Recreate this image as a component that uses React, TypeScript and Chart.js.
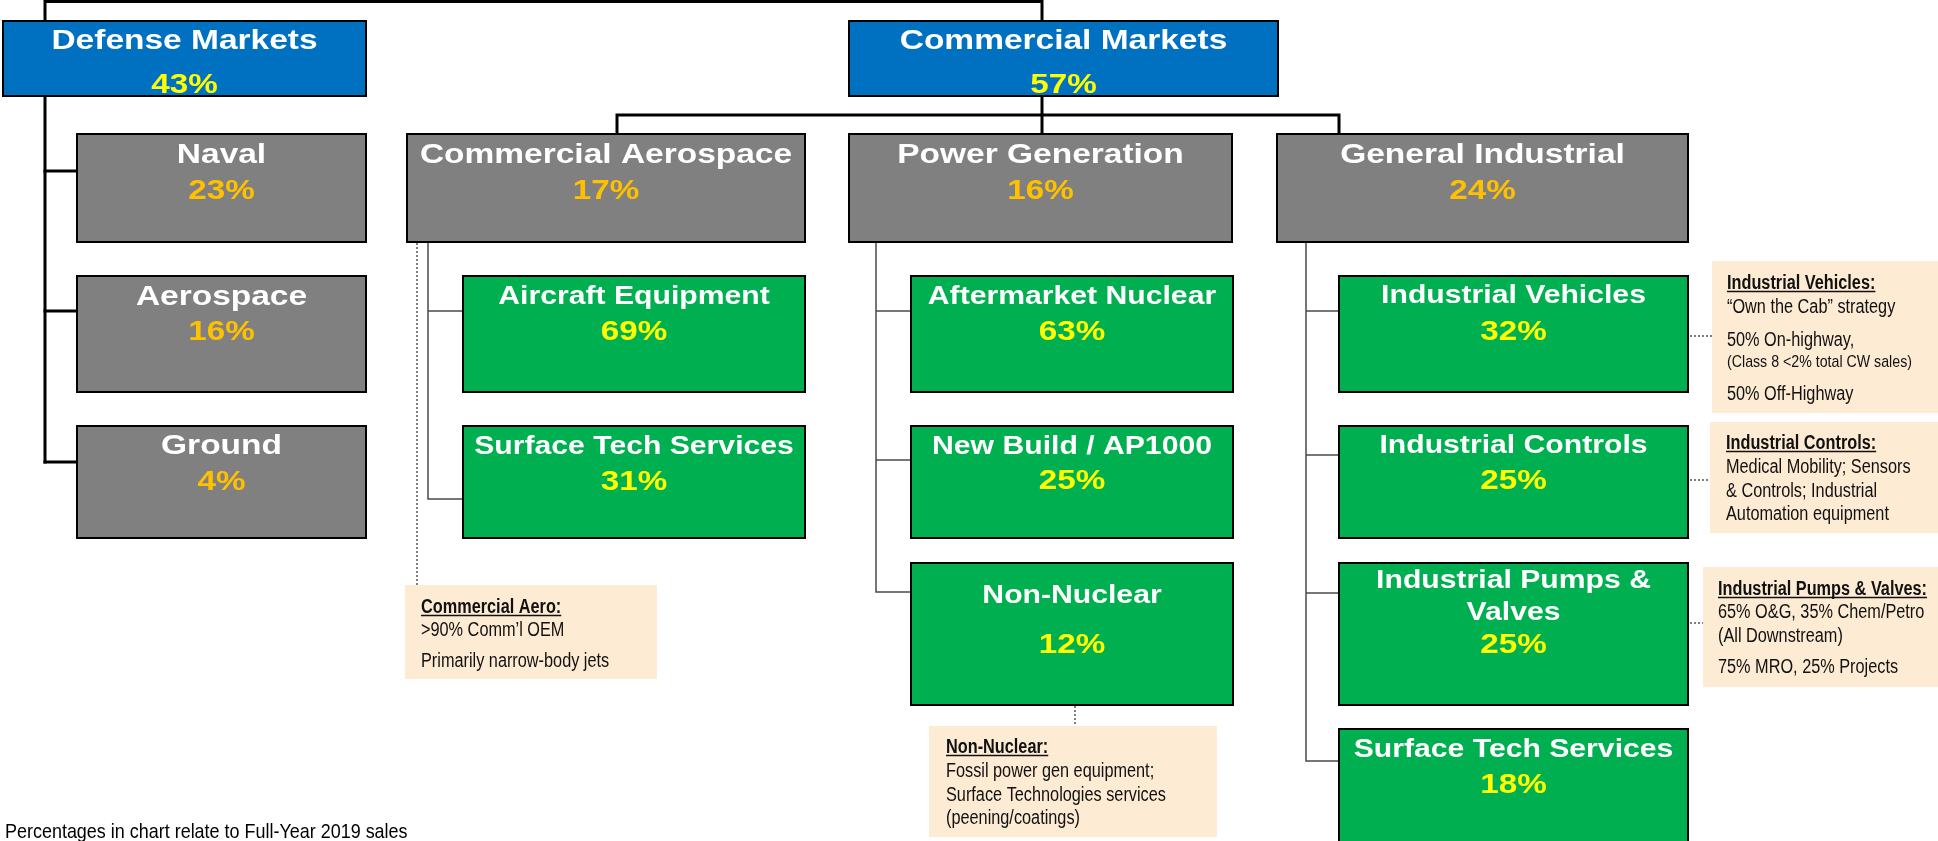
import React, { useEffect, useRef } from "react";
import { Chart, registerables } from "chart.js";

Chart.register(...registerables);

// ---------------- DATA ----------------
const boxTitles: string[][] = [
  ["Defense Markets"],
  ["Commercial Markets"],
  ["Naval"],
  ["Aerospace"],
  ["Ground"],
  ["Commercial Aerospace"],
  ["Power Generation"],
  ["General Industrial"],
  ["Aircraft Equipment"],
  ["Surface Tech Services"],
  ["Aftermarket Nuclear"],
  ["New Build / AP1000"],
  ["Non-Nuclear"],
  ["Industrial Vehicles"],
  ["Industrial Controls"],
  ["Industrial Pumps &", "Valves"],
  ["Surface Tech Services"],
];
const boxShares = [43, 57, 23, 16, 4, 17, 16, 24, 69, 31, 63, 25, 12, 32, 25, 25, 18];
const boxTiers = [0, 0, 1, 1, 1, 1, 1, 1, 2, 2, 2, 2, 2, 2, 2, 2, 2];

const noteTitles = [
  "Commercial Aero:",
  "Non-Nuclear:",
  "Industrial Vehicles:",
  "Industrial Controls:",
  "Industrial Pumps & Valves:",
];
const noteLines: string[][] = [
  [">90% Comm\u2019l OEM", "Primarily narrow-body jets"],
  ["Fossil power gen equipment;", "Surface Technologies services", "(peening/coatings)"],
  ["\u201COwn the Cab\u201D strategy", "50% On-highway,", "(Class 8 <2% total CW sales)", "50% Off-Highway"],
  ["Medical Mobility; Sensors", "& Controls; Industrial", "Automation equipment"],
  ["65% O&G, 35% Chem/Petro", "(All Downstream)", "75% MRO, 25% Projects"],
];
const footnote = "Percentages in chart relate to Full-Year 2019 sales";

// ---------------- LAYOUT (data-space units of the hidden linear scales) ----------------
const boxRects: number[][] = [
  [3, 21, 366, 96],
  [849, 21, 1278, 96],
  [77, 134, 366, 242],
  [77, 276, 366, 392],
  [77, 426, 366, 538],
  [407, 134, 805, 242],
  [849, 134, 1232, 242],
  [1277, 134, 1688, 242],
  [463, 276, 805, 392],
  [463, 426, 805, 538],
  [911, 276, 1233, 392],
  [911, 426, 1233, 538],
  [911, 563, 1233, 705],
  [1339, 276, 1688, 392],
  [1339, 426, 1688, 538],
  [1339, 563, 1688, 705],
  [1339, 729, 1688, 870],
];
const titleBaselines: number[][] = [
  [49], [49], [163], [305], [454], [163], [163], [163],
  [304], [454], [304], [454], [603], [303], [453], [588, 620], [757],
];
const shareBaselines = [93, 93, 199, 340, 490, 199, 199, 199, 340, 490, 340, 489, 653, 340, 489, 653, 793];

const thickLines: number[][] = [
  [45, 21, 45, 1.5, 1042, 1.5, 1042, 21],
  [45, 96, 45, 462],
  [45, 171, 77, 171],
  [45, 311, 77, 311],
  [45, 462, 77, 462],
  [1042, 96, 1042, 134],
  [617, 134, 617, 115, 1339, 115, 1339, 134],
];
const thinLines: number[][] = [
  [428, 242, 428, 499, 463, 499],
  [428, 311, 463, 311],
  [876, 242, 876, 592, 911, 592],
  [876, 311, 911, 311],
  [876, 460, 911, 460],
  [1306, 242, 1306, 761, 1339, 761],
  [1306, 311, 1339, 311],
  [1306, 455, 1339, 455],
  [1306, 593, 1339, 593],
];
const dottedLines: number[][] = [
  [417, 243, 417, 585],
  [1075, 706, 1075, 726],
  [1690, 336, 1712, 336],
  [1690, 480, 1710, 480],
  [1690, 623, 1703, 623],
];
const noteRects: number[][] = [
  [405, 585, 657, 679],
  [929, 726, 1217, 837],
  [1712, 261, 1940, 413],
  [1710, 422, 1940, 533],
  [1703, 567, 1940, 687],
];
const noteTextX = [421, 946, 1727, 1726, 1718];
const noteBaselines: number[][] = [
  [613, 636, 667],
  [753, 777, 801, 824],
  [289, 313, 346, 367, 400],
  [449, 473, 497, 520],
  [595, 618, 642, 673],
];
const footX = 5;
const footBaseline = 838;

// ---------------- STYLES ----------------
const FONT = "'Liberation Sans', Arial, Helvetica, sans-serif";
const tierFill = ["#0070C0", "#808080", "#00B050"];
const tierShareColor = ["#FFFF00", "#FFC000", "#FFFF00"];

function drawText(
  ctx: CanvasRenderingContext2D,
  text: string,
  x: number,
  y: number,
  font: string,
  color: string,
  sx: number,
  align: CanvasTextAlign,
  maxW?: number
) {
  ctx.save();
  ctx.font = font;
  ctx.fillStyle = color;
  ctx.textAlign = align;
  ctx.textBaseline = "alphabetic";
  ctx.translate(x, y);
  ctx.scale(sx, 1);
  if (maxW) ctx.fillText(text, 0, 0, maxW / sx);
  else ctx.fillText(text, 0, 0);
  const w = Math.min(ctx.measureText(text).width, maxW ? maxW / sx : Infinity) * sx;
  ctx.restore();
  return w;
}

const orgPlugin = {
  id: "orgChart",
  afterDraw(chart: any) {
    const ctx: CanvasRenderingContext2D = chart.ctx;
    const xs = chart.scales.x;
    const ys = chart.scales.y;
    const px = (v: number) => xs.getPixelForValue(v);
    const py = (v: number) => ys.getPixelForValue(v);

    const poly = (pts: number[]) => {
      ctx.beginPath();
      ctx.moveTo(px(pts[0]), py(pts[1]));
      for (let i = 2; i < pts.length; i += 2) ctx.lineTo(px(pts[i]), py(pts[i + 1]));
      ctx.stroke();
    };

    ctx.save();
    ctx.fillStyle = "#ffffff";
    ctx.fillRect(0, 0, chart.width, chart.height);

    // connectors
    ctx.lineJoin = "miter";
    ctx.strokeStyle = "#000000";
    ctx.lineWidth = 3;
    ctx.lineCap = "square";
    thickLines.forEach(poly);
    ctx.strokeStyle = "#4a4a4a";
    ctx.lineWidth = 1.5;
    ctx.lineCap = "butt";
    thinLines.forEach(poly);
    ctx.strokeStyle = "#7f7f7f";
    ctx.lineWidth = 2;
    ctx.setLineDash([2, 2]);
    dottedLines.forEach(poly);
    ctx.setLineDash([]);

    // notes
    noteRects.forEach((r, i) => {
      ctx.fillStyle = "#FDEBD3";
      ctx.fillRect(px(r[0]), py(r[1]), px(r[2]) - px(r[0]), py(r[3]) - py(r[1]));
      const tx = px(noteTextX[i]);
      const bl = noteBaselines[i];
      const w = drawText(ctx, noteTitles[i], tx, py(bl[0]), `bold 19.5px ${FONT}`, "#111111", 0.835, "left");
      ctx.strokeStyle = "#111111";
      ctx.lineWidth = 1.3;
      ctx.beginPath();
      ctx.moveTo(tx, py(bl[0]) + 2.5);
      ctx.lineTo(tx + w, py(bl[0]) + 2.5);
      ctx.stroke();
      noteLines[i].forEach((line, j) => {
        const small = line.startsWith("(Class");
        drawText(
          ctx,
          line,
          tx,
          py(bl[j + 1]),
          `${small ? 17 : 19.5}px ${FONT}`,
          "#111111",
          0.835,
          "left"
        );
      });
    });

    // boxes
    boxRects.forEach((r, i) => {
      const tier = boxTiers[i];
      const x0 = px(r[0]);
      const y0 = py(r[1]);
      const x1 = px(r[2]);
      const y1 = py(r[3]);
      ctx.fillStyle = tierFill[tier];
      ctx.fillRect(x0, y0, x1 - x0, y1 - y0);
      ctx.strokeStyle = "#000000";
      ctx.lineWidth = 2;
      ctx.strokeRect(x0, y0, x1 - x0, y1 - y0);
      const cx = (x0 + x1) / 2;
      const maxW = x1 - x0 - 14;
      boxTitles[i].forEach((t, j) => {
        const green = tier === 2;
        drawText(
          ctx,
          t,
          cx,
          py(titleBaselines[i][j]),
          `bold ${green ? 26 : 27}px ${FONT}`,
          "#ffffff",
          green ? 1.16 : 1.24,
          "center",
          maxW
        );
      });
      drawText(
        ctx,
        `${boxShares[i]}%`,
        cx,
        py(shareBaselines[i]),
        `bold 27px ${FONT}`,
        tierShareColor[tier],
        1.23,
        "center"
      );
    });

    // footnote
    drawText(ctx, footnote, px(footX), py(footBaseline), `21px ${FONT}`, "#000000", 0.855, "left");
    ctx.restore();
  },
};

export default function App() {
  const canvasRef = useRef<HTMLCanvasElement | null>(null);

  useEffect(() => {
    document.body.style.margin = "0";
    const canvas = canvasRef.current;
    if (!canvas) return;
    const chart = new Chart(canvas, {
      type: "scatter",
      data: { datasets: [{ data: [], pointRadius: 0 }] },
      options: {
        animation: false,
        responsive: false,
        maintainAspectRatio: false,
        devicePixelRatio: 1,
        layout: { padding: 0 },
        events: [],
        scales: {
          x: { type: "linear", min: 0, max: 1938, display: false },
          y: { type: "linear", min: 0, max: 841, reverse: true, display: false },
        },
        plugins: {
          legend: { display: false },
          tooltip: { enabled: false },
          title: { display: false },
        },
      },
      plugins: [orgPlugin],
    });
    return () => chart.destroy();
  }, []);

  return (
    <div style={{ width: 1938, height: 841, overflow: "hidden", background: "#fff" }}>
      <canvas ref={canvasRef} width={1938} height={841} style={{ display: "block" }} />
    </div>
  );
}
